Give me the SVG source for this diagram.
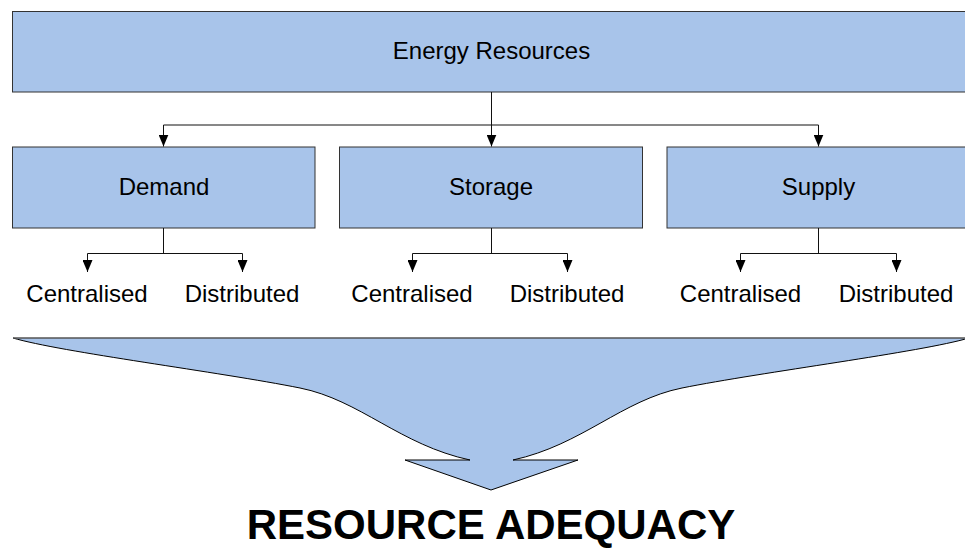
<svg xmlns="http://www.w3.org/2000/svg" width="965" height="549" viewBox="0 0 965 549">
  <style>
    .box { fill: #a8c4ea; stroke: #333; stroke-width: 1; }
    .lbl { font-family: "Liberation Sans", Arial, sans-serif; font-size: 24px; fill: #000; text-anchor: middle; }
    .title { font-family: "Liberation Sans", Arial, sans-serif; font-size: 42px; font-weight: bold; fill: #000; text-anchor: middle; }
    .wire { fill: none; stroke: #111; stroke-width: 1; }
  </style>
  <defs>
    <marker id="tri" viewBox="0 0 12 10" refX="12" refY="5" markerWidth="12" markerHeight="10" markerUnits="userSpaceOnUse" orient="auto">
      <path d="M0,0 L12,5 L0,10 z" fill="#000"/>
    </marker>
  </defs>
  <rect width="965" height="549" fill="#fff"/>

  <!-- funnel arrow -->
  <g id="funnel">
    <path d="M13,338 C60,352 220,372 300,388 C360,400 400,445 470,460 L405,460 L491,490 L578,460 L513,460 C582,445 622,400 682,388 C762,372 922,352 969,338 Z" fill="#a8c4ea" stroke="none"/>
    <path d="M13,338 C60,352 220,372 300,388 C360,400 400,445 470,460 L405,460 L491,490 L578,460 L513,460 C582,445 622,400 682,388 C762,372 922,352 969,338" fill="none" stroke="#000" stroke-width="1"/>
    <line x1="13" y1="338" x2="969" y2="338" stroke="#555" stroke-width="1.5"/>
  </g>

  <g id="energy-resources">
    <rect class="box" x="12.5" y="11.5" width="958" height="80.5"/>
    <text class="lbl" x="491.5" y="59">Energy Resources</text>
  </g>
  <g id="demand">
    <rect class="box" x="12.5" y="147" width="302.5" height="81"/>
    <text class="lbl" x="164" y="194.5">Demand</text>
  </g>
  <g id="storage">
    <rect class="box" x="339.5" y="147" width="303" height="81"/>
    <text class="lbl" x="491" y="194.5">Storage</text>
  </g>
  <g id="supply">
    <rect class="box" x="667" y="147" width="303" height="81"/>
    <text class="lbl" x="818.5" y="194.5">Supply</text>
  </g>

  <g id="demand-centralised"><text class="lbl" x="87" y="301.5">Centralised</text></g>
  <g id="demand-distributed"><text class="lbl" x="242" y="301.5">Distributed</text></g>
  <g id="storage-centralised"><text class="lbl" x="412" y="301.5">Centralised</text></g>
  <g id="storage-distributed"><text class="lbl" x="567" y="301.5">Distributed</text></g>
  <g id="supply-centralised"><text class="lbl" x="740.5" y="301.5">Centralised</text></g>
  <g id="supply-distributed"><text class="lbl" x="896" y="301.5">Distributed</text></g>

  <g id="resource-adequacy">
    <text class="title" x="491" y="539">RESOURCE ADEQUACY</text>
  </g>

  <g id="connectors">
    <!-- top level to the three categories -->
    <path class="wire" d="M491.5,92 V146.5" marker-end="url(#tri)"/>
    <path class="wire" d="M163.5,125 H818.5"/>
    <path class="wire" d="M163.5,125 V146.5" marker-end="url(#tri)"/>
    <path class="wire" d="M818.5,125 V146.5" marker-end="url(#tri)"/>
    <!-- demand split -->
    <path class="wire" d="M163.5,228 V253.5 M87.5,253.5 H242.5"/>
    <path class="wire" d="M87.5,253.5 V272" marker-end="url(#tri)"/>
    <path class="wire" d="M242.5,253.5 V272" marker-end="url(#tri)"/>
    <!-- storage split -->
    <path class="wire" d="M491.5,228 V253.5 M412.5,253.5 H567.5"/>
    <path class="wire" d="M412.5,253.5 V272" marker-end="url(#tri)"/>
    <path class="wire" d="M567.5,253.5 V272" marker-end="url(#tri)"/>
    <!-- supply split -->
    <path class="wire" d="M818.5,228 V253.5 M740.5,253.5 H896.5"/>
    <path class="wire" d="M740.5,253.5 V272" marker-end="url(#tri)"/>
    <path class="wire" d="M896.5,253.5 V272" marker-end="url(#tri)"/>
  </g>
</svg>
